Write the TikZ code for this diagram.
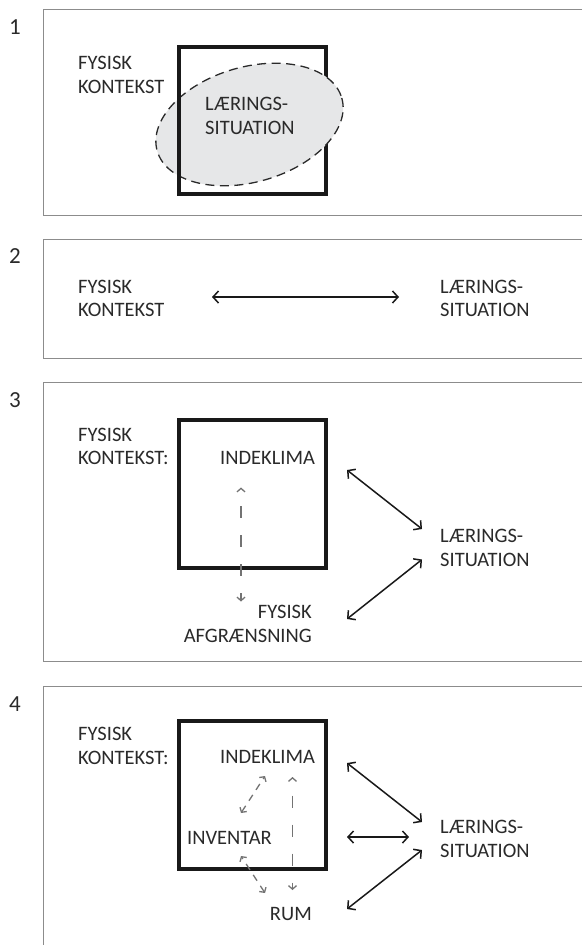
\documentclass[tikz,border=0pt]{standalone}
\usepackage{fontspec}
\setmainfont{Carlito}
\usetikzlibrary{arrows.meta}
\definecolor{ink}{HTML}{2A2A2A}
\definecolor{frame}{HTML}{8C8C8C}
\definecolor{shade}{HTML}{E6E7E8}
\definecolor{link}{HTML}{737373}
\tikzset{
  panel/.style={draw=frame, line width=1pt},
  room/.style={draw=black!90, line width=4pt},
  zone/.style={draw=ink, fill=shade, dash pattern=on 9pt off 5.5pt, line width=1.3pt},
  rel/.style={draw=black!90, line width=1.5pt, {Straight Barb[length=5.5pt,width=12pt]}-{Straight Barb[length=5.5pt,width=12pt]}},
  sub/.style={draw=link, line width=1.3pt, dash pattern=on 12pt off 17pt, dash phase=12pt, {Straight Barb[length=3.5pt,width=8pt]}-{Straight Barb[length=3.5pt,width=8pt]}},
  subs/.style={sub, dash pattern=on 7pt off 6pt, dash phase=5pt},
  lab/.style={text=ink, font={\fontsize{20.5}{23.5}\selectfont}, inner sep=0pt, align=left, anchor=north west},
  labr/.style={lab, align=right, anchor=north east},
  num/.style={text=ink, font={\fontsize{23}{26}\selectfont}, inner sep=0pt},
}
\begin{document}
\begin{tikzpicture}[x=1pt, y=-1pt]
  \useasboundingbox (0,0) rectangle (582,945);
  % panel 1
  \draw[panel] (582,9.5) -- (43.5,9.5) -- (43.5,215) -- (582,215);
  \node[num] (n1) at (15,27) {1};
  \node[lab] (fk1) at (78,56) {FYSISK\\KONTEKST};
  \draw[room] (179,47) rectangle (326,194);
  \draw[zone, rotate around={16:(249.5,124.5)}] (249.5,124.5) ellipse [x radius=96, y radius=57.5];
  \draw[room] (179,47) -- (179,194);
  \node[lab] (ls1) at (205,97) {LÆRINGS-\\SITUATION};
  % panel 2
  \draw[panel] (582,239) -- (43.5,239) -- (43.5,358) -- (582,358);
  \node[num] (n2) at (15,256) {2};
  \node[lab] (fk2) at (78,279.5) {FYSISK\\KONTEKST};
  \node[lab] (ls2) at (440,279.5) {LÆRINGS-\\SITUATION};
  \coordinate (a2l) at (212,297);
  \coordinate (a2r) at (399,297);
  \draw[rel] (a2l) -- (a2r);
  % panel 3
  \draw[panel] (582,382.5) -- (43.5,382.5) -- (43.5,661) -- (582,661);
  \node[num] (n3) at (15,400) {3};
  \node[lab] (fk3) at (78,427.5) {FYSISK\\KONTEKST:};
  \draw[room] (179,420) rectangle (326,568);
  \node[lab] (ik3) at (220,451) {INDEKLIMA};
  \node[labr] (fa3) at (312,605) {FYSISK\\AFGRÆNSNING};
  \node[lab] (ls3) at (440,529) {LÆRINGS-\\SITUATION};
  \coordinate (u3) at (241,487.5);
  \coordinate (d3) at (241,601.5);
  \draw[sub] (u3) -- (d3);
  \coordinate (p3) at (347,470);
  \coordinate (q3) at (422,529);
  \coordinate (r3) at (422,559.5);
  \coordinate (s3) at (347,619);
  \draw[rel] (p3) -- (q3);
  \draw[rel] (r3) -- (s3);
  % panel 4
  \draw[panel] (582,686) -- (43.5,686) -- (43.5,945);
  \node[num] (n4) at (15,704) {4};
  \node[lab] (fk4) at (78,727) {FYSISK\\KONTEKST:};
  \draw[room] (179,721) rectangle (326,869);
  \node[lab] (ik4) at (220,750) {INDEKLIMA};
  \node[lab] (inv4) at (187,831) {INVENTAR};
  \node[labr] (rum4) at (312,907) {RUM};
  \node[lab] (ls4) at (440,820) {LÆRINGS-\\SITUATION};
  \coordinate (u4) at (292.5,777);
  \coordinate (d4) at (292.5,890);
  \draw[sub] (u4) -- (d4);
  \coordinate (e4) at (265,776);
  \coordinate (f4) at (241,813);
  \draw[subs] (e4) -- (f4);
  \coordinate (g4) at (241,856);
  \coordinate (h4) at (265,893);
  \draw[subs] (g4) -- (h4);
  \coordinate (p4) at (347,763);
  \coordinate (q4) at (422,822);
  \coordinate (m4) at (347,837);
  \coordinate (k4) at (409,837);
  \coordinate (r4) at (422,850);
  \coordinate (s4) at (347,909);
  \draw[rel] (p4) -- (q4);
  \draw[rel] (m4) -- (k4);
  \draw[rel] (r4) -- (s4);
\end{tikzpicture}
\end{document}
